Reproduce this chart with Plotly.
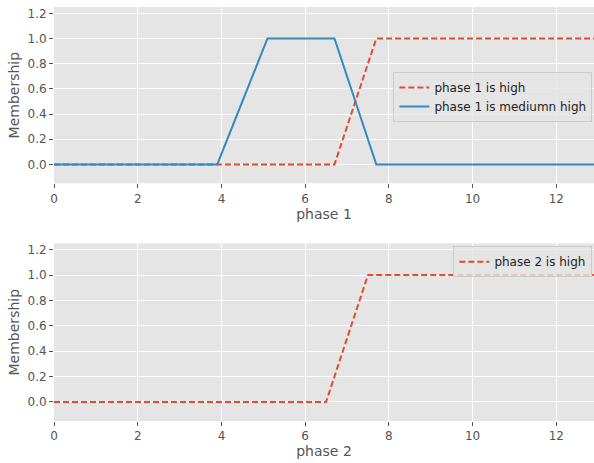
import plotly.graph_objects as go
from plotly.subplots import make_subplots

# Data
x_p1_high = [0, 6.7, 7.7, 12.9]
y_p1_high = [0, 0, 1, 1]
x_p1_medhigh = [0, 3.9, 5.1, 6.7, 7.7, 12.9]
y_p1_medhigh = [0, 0, 1, 1, 0, 0]
x_p2_high = [0, 6.5, 7.5, 12.9]
y_p2_high = [0, 0, 1, 1]

RED = "#E24A33"
BLUE = "#348ABD"
BG = "#E5E5E5"
GRAY = "#555555"
FONT = "DejaVu Sans"

fig = make_subplots(rows=2, cols=1, vertical_spacing=0.145)

fig.add_trace(go.Scatter(x=x_p1_high, y=y_p1_high, mode="lines", name="phase 1 is high",
                         line=dict(color=RED, width=2, dash="6px,3px"), legend="legend"), row=1, col=1)
fig.add_trace(go.Scatter(x=x_p1_medhigh, y=y_p1_medhigh, mode="lines", name="phase 1 is mediumn high",
                         line=dict(color=BLUE, width=2), legend="legend"), row=1, col=1)
fig.add_trace(go.Scatter(x=x_p2_high, y=y_p2_high, mode="lines", name="phase 2 is high",
                         line=dict(color=RED, width=2, dash="6px,3px"), legend="legend2"), row=2, col=1)

axis_common = dict(showgrid=True, gridcolor="white", gridwidth=1, zeroline=False,
                   ticks="outside", ticklen=4, tickcolor=GRAY, tickwidth=1,
                   tickfont=dict(family=FONT, size=12, color=GRAY), showline=False)

for r, lab in [(1, "phase 1"), (2, "phase 2")]:
    fig.update_xaxes(range=[0, 12.9], tickvals=[0, 2, 4, 6, 8, 10, 12],
                     title=dict(text=lab, font=dict(family=FONT, size=14, color=GRAY), standoff=2),
                     row=r, col=1, **axis_common)
    fig.update_yaxes(range=[-0.15, 1.25], tickvals=[0, 0.2, 0.4, 0.6, 0.8, 1.0, 1.2],
                     tickformat=".1f",
                     title=dict(text="Membership", font=dict(family=FONT, size=14, color=GRAY), standoff=4),
                     row=r, col=1, **axis_common)

fig.update_layout(
    width=594, height=463,
    margin=dict(l=54, r=0, t=7, b=42),
    paper_bgcolor="white", plot_bgcolor=BG,
    font=dict(family=FONT, size=12, color="#222222"),
    legend=dict(x=0.997, xanchor="right", y=0.843, yanchor="top",
                bgcolor="rgba(229,229,229,0.8)", bordercolor="#CCCCCC", borderwidth=1,
                font=dict(family=FONT, size=12, color="#222222"), tracegroupgap=0,
                itemwidth=30),
    legend2=dict(x=0.997, xanchor="right", y=0.422, yanchor="top",
                 bgcolor="rgba(229,229,229,0.8)", bordercolor="#CCCCCC", borderwidth=1,
                 font=dict(family=FONT, size=12, color="#222222"),
                 itemwidth=30),
)
fig.update_xaxes(domain=[0, 1])
fig.update_yaxes(domain=[0.574, 1], row=1, col=1)
fig.update_yaxes(domain=[0, 0.429], row=2, col=1)

fig.write_html("out.html", config={"displayModeBar": False})

with open("out.html", "r", encoding="utf-8") as f:
    html = f.read()
html = html.replace("<head>", "<head><style>html,body{margin:0;padding:0;overflow:hidden;}</style>", 1)
with open("out.html", "w", encoding="utf-8") as f:
    f.write(html)
